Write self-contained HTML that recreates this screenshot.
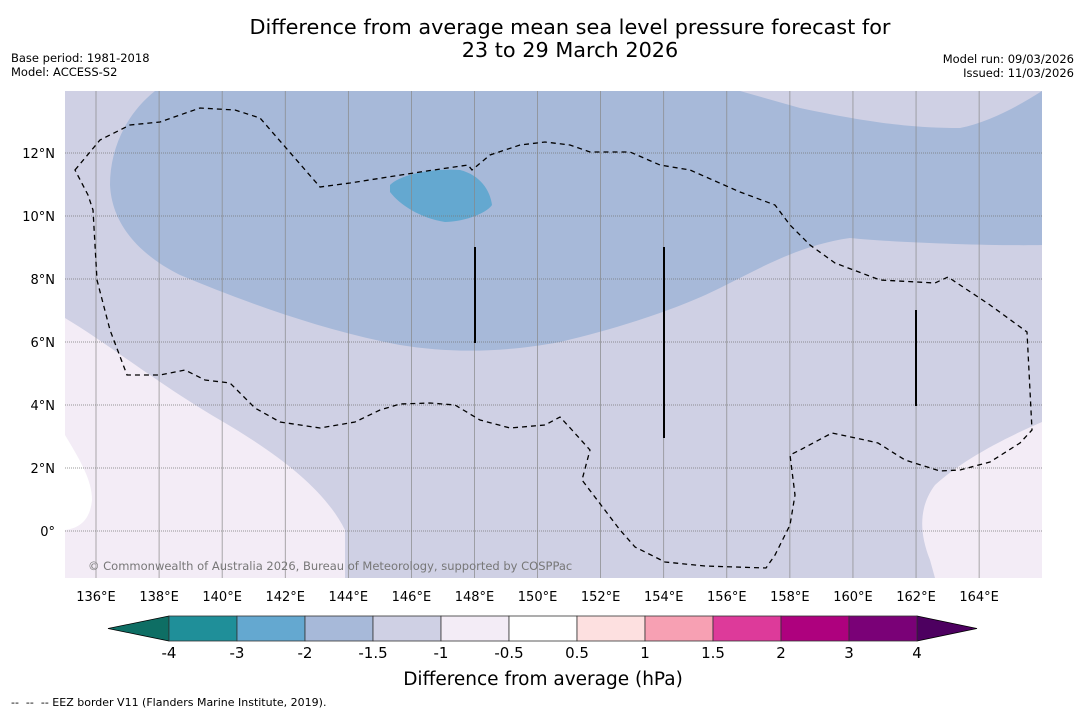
<!DOCTYPE html>
<html><head><meta charset="utf-8"><style>
body{margin:0;background:#fff;width:1085px;height:713px;overflow:hidden;font-family:"DejaVu Sans","Liberation Sans",sans-serif}
svg text{font-family:"DejaVu Sans","Liberation Sans",sans-serif}
</style></head><body>
<svg id="s" width="1085" height="713">
<text x="570" y="34" font-size="20.8" text-anchor="middle">Difference from average mean sea level pressure forecast for</text>
<text x="570" y="57" font-size="20.8" text-anchor="middle">23 to 29 March 2026</text>
<text x="11" y="62" font-size="11.5">Base period: 1981-2018</text>
<text x="11" y="76" font-size="11.5">Model: ACCESS-S2</text>
<text x="1074" y="63" font-size="11.5" text-anchor="end">Model run: 09/03/2026</text>
<text x="1074" y="77" font-size="11.5" text-anchor="end">Issued: 11/03/2026</text>
<defs><clipPath id="mc"><rect x="65" y="91" width="977" height="487"/></clipPath></defs>
<g clip-path="url(#mc)">
<rect x="65" y="91" width="977" height="487" fill="#cfd0e4"/>
<path d="M155,91 C125,115 110,150 110,185 C112,225 140,255 180,275 C240,300 320,330 400,345 C450,353 500,353 560,342 C620,328 680,308 720,288 C760,268 800,245 850,238 C900,243 1000,246 1042,245 L1042,91 C1020,105 990,122 960,128 C920,128 880,125 800,108 L740,91 Z" fill="#a7b9d9"/>
<path d="M390,185 C400,175 430,168 460,170 C480,175 490,190 492,205 C485,215 460,222 445,222 C420,218 400,205 390,192 Z" fill="#64a8d0"/>
<path d="M65,318 C110,345 160,385 220,420 C280,455 325,490 345,530 L345,578 L65,578 Z" fill="#f3ecf6"/>
<path d="M65,435 C80,460 92,480 92,500 C90,520 80,528 65,530 Z" fill="#ffffff"/>
<path d="M1042,422 C1000,440 960,462 935,485 C920,505 918,530 930,560 L935,578 L1042,578 Z" fill="#f3ecf6"/>
<g id="grid"></g>
<path d="M75,170 L100,140 L130,125 L160,122 L200,108 L235,110 L260,118 L320,187 L350,183 L420,172 L468,165 L472,170 L490,155 L520,145 L545,142 L570,145 L590,152 L630,152 L660,165 L690,170 L740,192 L775,205 L790,225 L810,245 L835,263 L880,280 L935,283 L948,277 L990,305 L1027,332 L1032,430 L1020,443 L990,462 L960,470 L940,471 L905,460 L878,443 L865,440 L832,433 L800,450 L790,455 L795,495 L790,525 L775,555 L766,568 L705,566 L665,562 L635,547 L620,530 L582,480 L590,450 L572,430 L560,417 L545,425 L510,428 L480,420 L455,405 L430,403 L400,404 L380,410 L355,422 L320,428 L280,422 L255,408 L230,383 L205,380 L185,370 L160,375 L127,375 L110,330 L97,280 L93,210 L88,195 Z" fill="none" stroke="#000" stroke-width="1.3" stroke-dasharray="5,4"/>
<line x1="475" y1="247" x2="475" y2="343" stroke="#000" stroke-width="2"/>
<line x1="664" y1="247" x2="664" y2="438" stroke="#000" stroke-width="2"/>
<line x1="916" y1="310" x2="916" y2="406" stroke="#000" stroke-width="2"/>
<text x="88" y="570" font-size="11.5" fill="#777">© Commonwealth of Australia 2026, Bureau of Meteorology, supported by COSPPac</text>
</g>
<g id="axes"></g>
<g id="cbar"></g>
<text x="543" y="685" font-size="18.5" text-anchor="middle">Difference from average (hPa)</text>
<text x="11" y="706" font-size="11" xml:space="preserve" style="white-space:pre">--  --  -- EEZ border V11 (Flanders Marine Institute, 2019).</text>
</svg>
<script>
const lonTicks=[136,138,140,142,144,146,148,150,152,154,156,158,160,162,164];
const latTicks=[0,2,4,6,8,10,12];
const cbarLevels=[-4,-3,-2,-1.5,-1,-0.5,0.5,1,1.5,2,3,4];
const cbarColors=["#1f8f99","#64a8d0","#a7b9d9","#cfd0e4","#f3ecf6","#ffffff","#fde0e0","#f7a0b3","#dd3a9a","#ae017e","#7a0177"];
const NS="http://www.w3.org/2000/svg";
const xLon=l=>96+(l-136)*31.54;
const yLat=l=>531-l*31.5;
function mk(t,a,p){const e=document.createElementNS(NS,t);for(const k in a)e.setAttribute(k,a[k]);p.appendChild(e);return e;}
const grid=document.getElementById('grid'),axes=document.getElementById('axes'),cb=document.getElementById('cbar');
lonTicks.forEach(l=>{
 const ln=mk('line',{x1:xLon(l),x2:xLon(l),y1:91,y2:578,stroke:'#888','stroke-width':0.7},grid);
 
 
 const t=mk('text',{x:xLon(l),y:601,'font-size':13,'text-anchor':'middle'},axes);t.textContent=l+'°E';
 
 
});
latTicks.forEach(l=>{
 const ln=mk('line',{x1:65,x2:1042,y1:yLat(l),y2:yLat(l),stroke:'#777','stroke-width':0.8,'stroke-dasharray':'1,1'},grid);
 
 
 const t=mk('text',{x:55,y:yLat(l)+5,'font-size':13,'text-anchor':'end'},axes);t.textContent=l+(l?'°N':'°');
 
 
});
const cx=v=>169+cbarLevels.indexOf(v)*68;
const y0=616,y1=641;
const la=mk('polygon',{points:`169,${y0} 108,628.5 169,${y1}`,fill:'#0e6e64',stroke:'#000','stroke-width':0.8},cb);


const ra=mk('polygon',{points:`917,${y0} 977,628.5 917,${y1}`,fill:'#4d0060',stroke:'#000','stroke-width':0.8},cb);


cbarColors.forEach((c,i)=>{
 const r=mk('rect',{x:cx(cbarLevels[i]),y:y0,width:cx(cbarLevels[i+1])-cx(cbarLevels[i]),height:y1-y0,fill:c,stroke:'#333','stroke-width':0.8},cb);
 
 
});
cbarLevels.forEach(v=>{
 const t=mk('text',{x:cx(v),y:658,'font-size':15,'text-anchor':'middle'},cb);t.textContent=String(v);
 
 
});
</script>
</body></html>
